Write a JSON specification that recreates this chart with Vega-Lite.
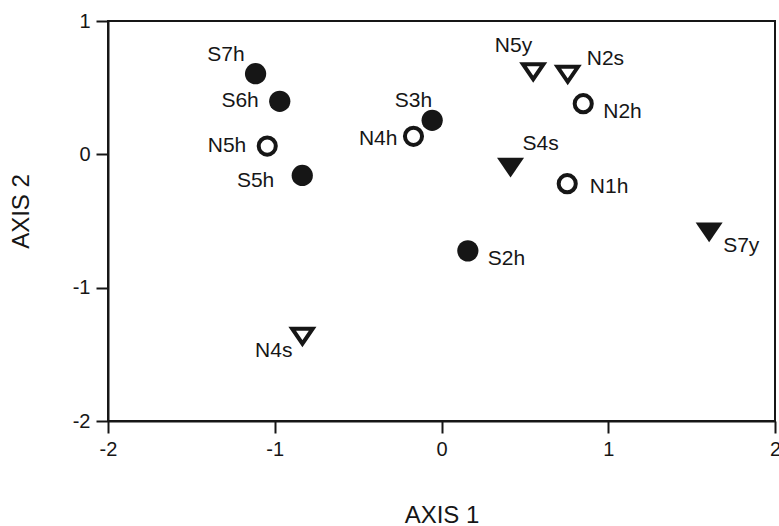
{
  "$schema": "https://vega.github.io/schema/vega-lite/v6.json",
  "width": 667,
  "height": 400,
  "autosize": {"type": "none"},
  "padding": {"left": 108, "top": 21, "right": 4, "bottom": 105},
  "background": "white",
  "config": {
    "view": {"stroke": "#161616", "strokeWidth": 2},
    "font": "Liberation Sans",
    "text": {"font": "Liberation Sans", "fontSize": 21, "color": "#161616", "baseline": "alphabetic"}
  },
  "data": {
    "values": [
      {"name": "S7h", "axis1": -1.115, "axis2": 0.605, "marker": "circle", "filled": true},
      {"name": "S6h", "axis1": -0.97, "axis2": 0.398, "marker": "circle", "filled": true},
      {"name": "N5h", "axis1": -1.045, "axis2": 0.062, "marker": "circle", "filled": false},
      {"name": "S5h", "axis1": -0.835, "axis2": -0.158, "marker": "circle", "filled": true},
      {"name": "S3h", "axis1": -0.056, "axis2": 0.255, "marker": "circle", "filled": true},
      {"name": "N4h", "axis1": -0.168, "axis2": 0.135, "marker": "circle", "filled": false},
      {"name": "N5y", "axis1": 0.55, "axis2": 0.62, "marker": "triangle", "filled": false},
      {"name": "N2s", "axis1": 0.757, "axis2": 0.6, "marker": "triangle", "filled": false},
      {"name": "N2h", "axis1": 0.85, "axis2": 0.38, "marker": "circle", "filled": false},
      {"name": "S4s", "axis1": 0.414, "axis2": -0.1, "marker": "triangle", "filled": true},
      {"name": "N1h", "axis1": 0.754, "axis2": -0.22, "marker": "circle", "filled": false},
      {"name": "S7y", "axis1": 1.605, "axis2": -0.585, "marker": "triangle", "filled": true},
      {"name": "S2h", "axis1": 0.158, "axis2": -0.724, "marker": "circle", "filled": true},
      {"name": "N4s", "axis1": -0.834, "axis2": -1.364, "marker": "triangle", "filled": false}
    ]
  },
  "encoding": {
    "x": {
      "field": "axis1", "type": "quantitative",
      "scale": {"domain": [-2, 2], "nice": false, "zero": false},
      "axis": {
        "title": "AXIS 1", "values": [-2, -1, 0, 1, 2], "grid": false,
        "labelExpr": "datum.value < 0 ? '-' + abs(datum.value) : '' + datum.value",
        "domainColor": "#161616", "domainWidth": 2, "tickColor": "#161616", "tickWidth": 2, "tickSize": 12,
        "labelFont": "Liberation Sans", "labelFontSize": 20, "labelColor": "#161616", "labelPadding": 6, "labelFlush": false,
        "titleFont": "Liberation Sans", "titleFontSize": 24, "titleFontWeight": "normal", "titleColor": "#161616",
        "titleBaseline": "alphabetic", "titleY": 101
      }
    },
    "y": {
      "field": "axis2", "type": "quantitative",
      "scale": {"domain": [-2, 1], "nice": false, "zero": false},
      "axis": {
        "title": "AXIS 2", "values": [-2, -1, 0, 1], "grid": false,
        "labelExpr": "datum.value < 0 ? '-' + abs(datum.value) : '' + datum.value",
        "domainColor": "#161616", "domainWidth": 2, "tickColor": "#161616", "tickWidth": 2, "tickSize": 12,
        "labelFont": "Liberation Sans", "labelFontSize": 20, "labelColor": "#161616", "labelPadding": 6, "labelFlush": false,
        "titleFont": "Liberation Sans", "titleFontSize": 24, "titleFontWeight": "normal", "titleColor": "#161616",
        "titleAngle": 270, "titleBaseline": "alphabetic", "titleX": -80, "titleY": 190, "titleAlign": "center"
      }
    }
  },
  "layer": [
    {
      "transform": [{"filter": "datum.marker == 'circle' && datum.filled"}],
      "mark": {"type": "point", "shape": "circle", "filled": true, "size": 452, "fill": "#161616", "strokeWidth": 0, "opacity": 1}
    },
    {
      "transform": [{"filter": "datum.marker == 'triangle' && datum.filled"}],
      "mark": {"type": "point", "shape": "M-1,-0.73L1,-0.73L0,0.73Z", "filled": true, "size": 729, "fill": "#161616", "strokeWidth": 0, "opacity": 1}
    },
    {
      "transform": [{"filter": "datum.marker == 'circle' && !datum.filled"}],
      "mark": {"type": "point", "shape": "circle", "filled": false, "size": 293, "fill": "white", "fillOpacity": 1, "stroke": "#161616", "strokeWidth": 4, "opacity": 1}
    },
    {
      "transform": [{"filter": "datum.marker == 'triangle' && !datum.filled"}],
      "mark": {"type": "point", "shape": "M-1,-0.73L1,-0.73L0,0.73Z", "filled": false, "size": 420, "fill": "white", "fillOpacity": 1, "stroke": "#161616", "strokeWidth": 4, "strokeJoin": "miter", "opacity": 1}
    },
    {
      "transform": [{"filter": {"field": "name", "oneOf": ["S6h", "N5h"]}}],
      "mark": {"type": "text", "align": "right", "dx": -21, "dy": 6},
      "encoding": {"text": {"field": "name"}}
    },
    {
      "transform": [{"filter": {"field": "name", "oneOf": ["N4h"]}}],
      "mark": {"type": "text", "align": "right", "dx": -16, "dy": 9},
      "encoding": {"text": {"field": "name"}}
    },
    {
      "transform": [{"filter": {"field": "name", "oneOf": ["S5h"]}}],
      "mark": {"type": "text", "align": "right", "dx": -28, "dy": 12},
      "encoding": {"text": {"field": "name"}}
    },
    {
      "transform": [{"filter": {"field": "name", "oneOf": ["S7h"]}}],
      "mark": {"type": "text", "align": "right", "dx": -11, "dy": -12.6},
      "encoding": {"text": {"field": "name"}}
    },
    {
      "transform": [{"filter": {"field": "name", "oneOf": ["S3h"]}}],
      "mark": {"type": "text", "align": "right", "dx": 0, "dy": -13.4},
      "encoding": {"text": {"field": "name"}}
    },
    {
      "transform": [{"filter": {"field": "name", "oneOf": ["N5y"]}}],
      "mark": {"type": "text", "align": "right", "dx": -1, "dy": -20},
      "encoding": {"text": {"field": "name"}}
    },
    {
      "transform": [{"filter": {"field": "name", "oneOf": ["N4s"]}}],
      "mark": {"type": "text", "align": "right", "dx": -10, "dy": 21},
      "encoding": {"text": {"field": "name"}}
    },
    {
      "transform": [{"filter": {"field": "name", "oneOf": ["N2s"]}}],
      "mark": {"type": "text", "align": "left", "dx": 19, "dy": -9},
      "encoding": {"text": {"field": "name"}}
    },
    {
      "transform": [{"filter": {"field": "name", "oneOf": ["S4s"]}}],
      "mark": {"type": "text", "align": "left", "dx": 12, "dy": -17.5},
      "encoding": {"text": {"field": "name"}}
    },
    {
      "transform": [{"filter": {"field": "name", "oneOf": ["N2h", "S2h"]}}],
      "mark": {"type": "text", "align": "left", "dx": 20, "dy": 14},
      "encoding": {"text": {"field": "name"}}
    },
    {
      "transform": [{"filter": {"field": "name", "oneOf": ["N1h"]}}],
      "mark": {"type": "text", "align": "left", "dx": 22.6, "dy": 9.4},
      "encoding": {"text": {"field": "name"}}
    },
    {
      "transform": [{"filter": {"field": "name", "oneOf": ["S7y"]}}],
      "mark": {"type": "text", "align": "left", "dx": 14, "dy": 19.7},
      "encoding": {"text": {"field": "name"}}
    }
  ]
}
